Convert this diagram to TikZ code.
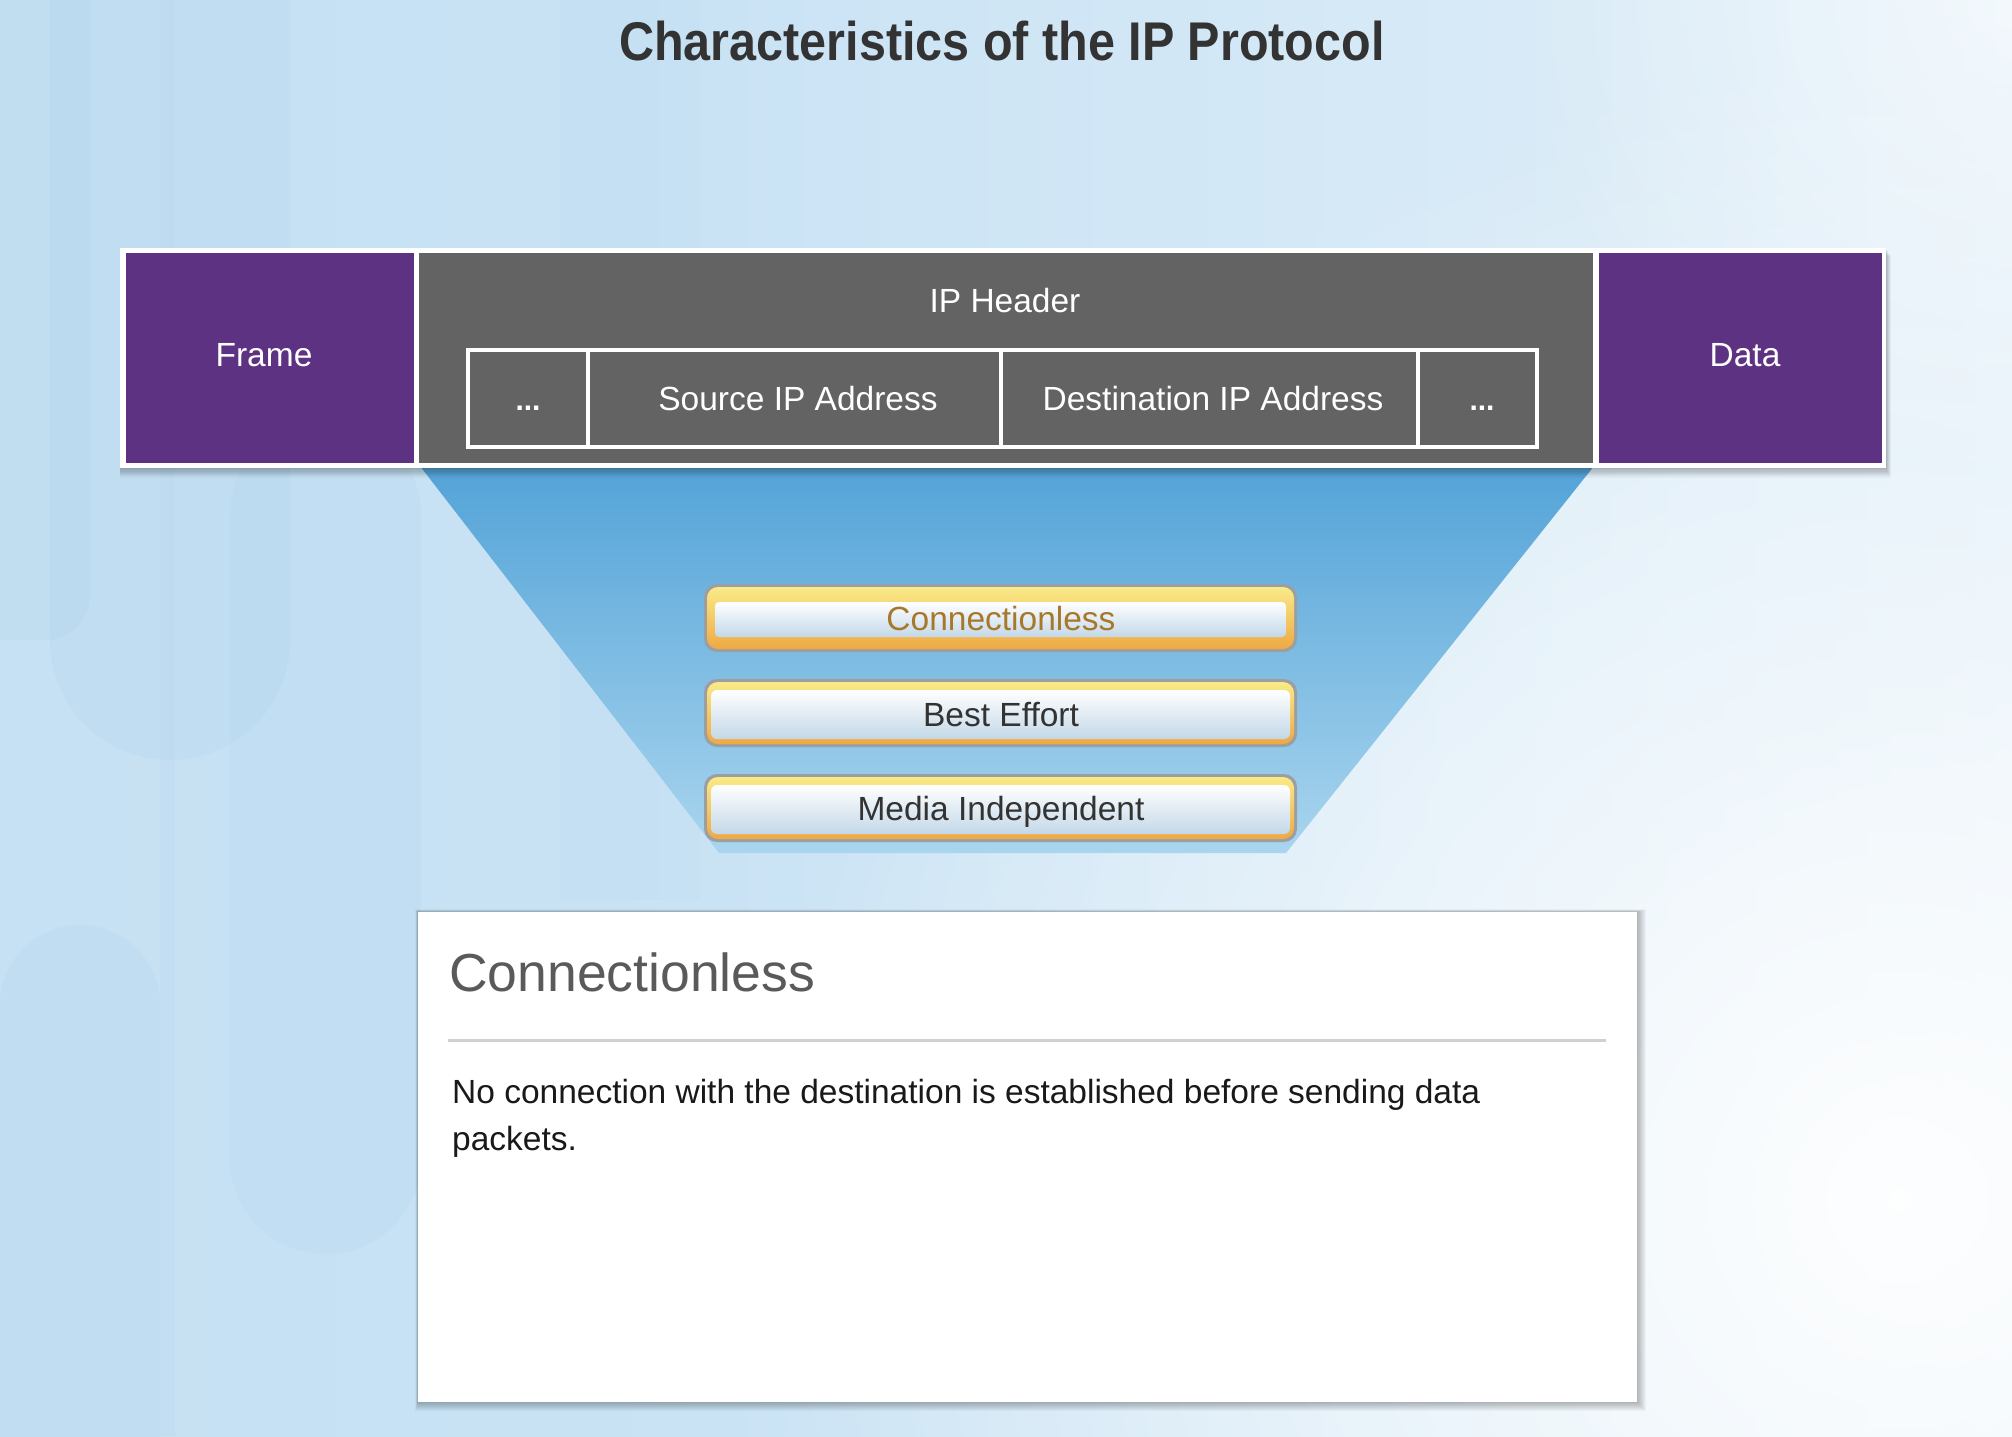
\documentclass[tikz,border=0pt]{standalone}
\usepackage{fontspec}
\setmainfont{Liberation Sans}
\usepackage{graphicx}
\usetikzlibrary{fadings}
\definecolor{bgA}{HTML}{C3DFF2}
\definecolor{bgB}{HTML}{C8E2F4}
\definecolor{bgC}{HTML}{DDEDF8}
\definecolor{bgD}{HTML}{F4F8FC}
\definecolor{stripe}{HTML}{A6CDEA}
\definecolor{purp}{HTML}{5E3283}
\definecolor{hdr}{HTML}{646363}
\definecolor{funTop}{HTML}{53A3D8}
\definecolor{funBot}{HTML}{A9D5EE}
\definecolor{btnGray}{HTML}{9C9FA2}
\definecolor{btnYel}{HTML}{F9EA88}
\definecolor{btnOrg}{HTML}{EFA943}
\definecolor{btnIn}{HTML}{C3D8E8}
\definecolor{selTxt}{HTML}{A8782A}
\definecolor{darkTxt}{HTML}{333333}
\definecolor{panelTitle}{HTML}{5A5A5A}
\definecolor{rule}{HTML}{D0D0D0}
\pgfdeclarehorizontalshading{bgshade}{100bp}{color(0bp)=(bgA); color(40bp)=(bgB); color(70bp)=(bgC); color(100bp)=(bgD)}
\tikzfading[name=glowfade, inner color=transparent!0, outer color=transparent!100]
\begin{document}
\begin{tikzpicture}[x=1pt,y=-1pt,
  lbl/.style={font=\fontsize{33.5}{40}\selectfont, inner sep=0pt},
  wlbl/.style={lbl, text=white},
  btntext/.style={lbl, text=darkTxt, anchor=base},
  cellline/.style={draw=white, line width=3.5pt},
  dotlbl/.style={inner sep=0pt, text=white, font=\bfseries\fontsize{30}{30}\selectfont, anchor=base},
  ]
\useasboundingbox (0,0) rectangle (2012,1436);
% background
\shade[shading=bgshade] (0,0) rectangle (2012,1436);
\fill[stripe, opacity=0.18, rounded corners=120pt] (50,-300) rectangle (290,760);
\fill[stripe, opacity=0.15, rounded corners=95pt] (230,420) rectangle (421,1254);
\fill[stripe, opacity=0.18, rounded corners=80pt] (0,925) rectangle (160,1700);
\fill[stripe, opacity=0.15, rounded corners=45pt] (-60,-200) rectangle (90,640);
\fill[stripe, opacity=0.10] (160,0) rectangle (175,1436);
\fill[stripe, opacity=0.08] (560,0) rectangle (700,900);
\fill[white, opacity=0.95, path fading=glowfade] (1900,1200) circle (1150);
\fill[white, opacity=0.6, path fading=glowfade] (2012,0) circle (500);
% funnel
\shade[top color=funTop, bottom color=funBot] (420,466) -- (1594,466) -- (1286,853) -- (719,853) -- cycle;
% bar group shadow
\foreach \i in {1,...,8} {
  \fill[black, opacity=0.035] (120,{248+\i}) rectangle ({1886+\i*0.6},{468+\i*1.2});
}
% bar group
\fill[white] (120,248) rectangle (1886,468);
\fill[purp] (126,253) rectangle (414,463);
\fill[hdr] (419,253) rectangle (1593,463);
\fill[purp] (1599,253) rectangle (1882,463);
\draw[cellline] (468,350) rectangle (1537,447);
\draw[cellline] (588,350) -- (588,447);
\draw[cellline] (1001,350) -- (1001,447);
\draw[cellline] (1418,350) -- (1418,447);
\node[wlbl, anchor=base] (frame) at (264,366) {Frame};
\node[wlbl, anchor=base] (data) at (1745,366) {Data};
\node[wlbl, anchor=base] (iphdr) at (1005,312) {IP Header};
\node[wlbl, anchor=base] (src) at (798,410) {Source IP Address};
\node[wlbl, anchor=base] (dst) at (1213,410) {Destination IP Address};
\node[dotlbl] (dotsL) at (528,410) {...};
\node[dotlbl] (dotsR) at (1482,410) {...};
% buttons
% selected
\fill[btnGray, rounded corners=13pt] (704,584) rectangle (1297,652);
\shade[top color=btnYel, bottom color=btnOrg, rounded corners=11pt] (707,587) rectangle (1294,649);
\shade[top color=white, bottom color=btnIn, rounded corners=4pt] (715,602) rectangle (1286,637);
\node[btntext, text=selTxt] (b1) at (1001,630) {Connectionless};
% normal
\fill[btnGray, rounded corners=13pt] (704,679) rectangle (1297,747);
\shade[top color=btnYel, bottom color=btnOrg, rounded corners=11pt] (707,682) rectangle (1294,744);
\shade[top color=white, bottom color=btnIn, rounded corners=6pt] (711,690) rectangle (1290,739);
\node[btntext] (b2) at (1001,726) {Best Effort};
\fill[btnGray, rounded corners=13pt] (704,774) rectangle (1297,842);
\shade[top color=btnYel, bottom color=btnOrg, rounded corners=11pt] (707,777) rectangle (1294,839);
\shade[top color=white, bottom color=btnIn, rounded corners=6pt] (711,785) rectangle (1290,834);
\node[btntext] (b3) at (1001,820) {Media Independent};
% title
\node[inner sep=0pt, anchor=base, text=darkTxt] (title) at (1002,60) {\scalebox{0.89}[1]{\bfseries\fontsize{54.5}{60}\selectfont Characteristics of the IP Protocol}};
% panel shadow
\foreach \i in {1,...,9} {
  \fill[black, opacity=0.03] ({418-\i*0.3},{912-\i*0.3}) rectangle ({1637+\i},{1402+\i});
}
\fill[white] (418,912) rectangle (1637,1402);
\node[inner sep=0pt, anchor=base west, text=panelTitle, font=\fontsize{53.5}{60}\selectfont] (ptitle) at (449,991) {Connectionless};
\draw[rule, line width=3pt] (448,1040) -- (1606,1040);
\node[lbl, anchor=base west, text=black!90] (body1) at (452,1103) {No connection with the destination is established before sending data};
\node[lbl, anchor=base west, text=black!90] (body2) at (452,1150) {packets.};
\end{tikzpicture}
\end{document}
